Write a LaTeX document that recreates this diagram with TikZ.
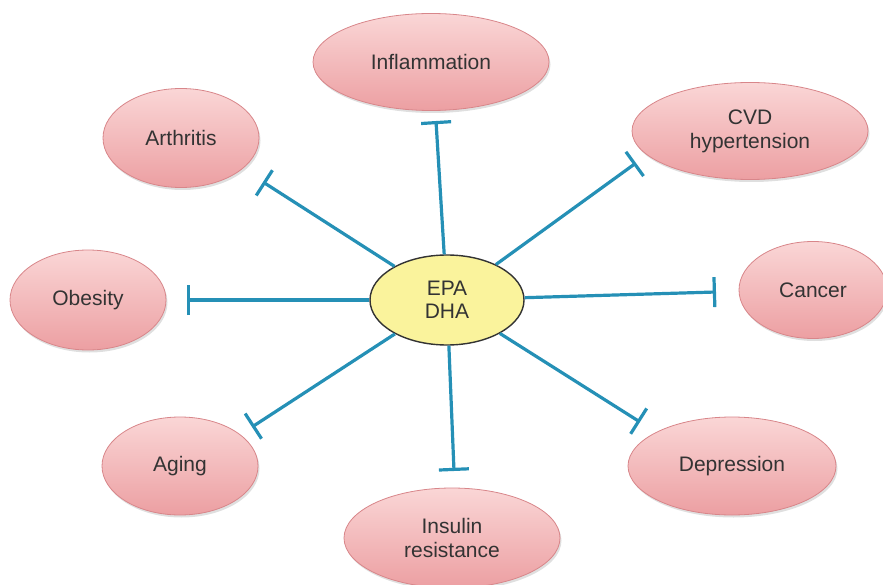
\documentclass[tikz,border=0pt]{standalone}
\usepackage{fontspec}
\setmainfont{Liberation Sans}
\usetikzlibrary{shapes.geometric,arrows.meta,shadows}
\definecolor{pinktop}{HTML}{FAD6D6}
\definecolor{pinkbot}{HTML}{EC9FA2}
\definecolor{pinkline}{HTML}{D8868A}
\definecolor{yellowfill}{HTML}{FAF39C}
\definecolor{linkblue}{HTML}{2590B6}
\definecolor{txt}{HTML}{333333}
\tikzset{
  disease/.style={ellipse, inner sep=0pt, top color=pinktop, bottom color=pinkbot,
    draw=pinkline, line width=0.8pt, text=txt, align=center,
    font=\fontsize{21}{24}\selectfont,
    drop shadow={opacity=0.25, shadow xshift=1.5pt, shadow yshift=-2.5pt}},
  core/.style={ellipse, inner sep=0pt, fill=yellowfill, draw=black!80, line width=1.4pt,
    text=txt, align=center, font=\fontsize{21}{23}\selectfont},
  inhib/.style={draw=linkblue, line width=3.2pt, -{Bar[width=30pt, line width=3.2pt]}}
}
\begin{document}
\begin{tikzpicture}[x=1pt, y=-1pt]
\useasboundingbox (0,0) rectangle (883,585);
\clip (0,0) rectangle (883,585);
% nodes
\node[core, minimum width=154pt, minimum height=90pt] (c) at (447,300) {EPA\\DHA};
\node[disease, minimum width=236pt, minimum height=97pt] (infl) at (431,62) {Inflammation};
\node[disease, minimum width=156pt, minimum height=99pt] (arth) at (181,138) {Arthritis};
\node[disease, minimum width=236pt, minimum height=97pt] (cvd) at (750,131) {CVD\\hypertension};
\node[disease, minimum width=148pt, minimum height=97pt] (canc) at (813,290) {Cancer};
\node[disease, minimum width=156pt, minimum height=100pt] (obes) at (88,300) {Obesity};
\node[disease, minimum width=156pt, minimum height=98pt] (agin) at (180,466) {Aging};
\node[disease, minimum width=208pt, minimum height=98pt] (depr) at (732,466) {Depression};
\node[disease, minimum width=216pt, minimum height=100pt] (insu) at (452,538) {Insulin\\resistance};
% inhibition ends
\coordinate (tInf) at (436,121);
\coordinate (tArt) at (263,182);
\coordinate (tCVD) at (636,163);
\coordinate (tCan) at (716,292);
\coordinate (tObe) at (187,300);
\coordinate (tAge) at (252,427);
\coordinate (tDep) at (640,422);
\coordinate (tIns) at (454,471);
% connectors
\draw[inhib] (c) -- (tInf);
\draw[inhib] (c) -- (tArt);
\draw[inhib] (c) -- (tCVD);
\draw[inhib] (c) -- (tCan);
\draw[inhib] (c) -- (tObe);
\draw[inhib] (c) -- (tAge);
\draw[inhib] (c) -- (tDep);
\draw[inhib] (c) -- (tIns);
\end{tikzpicture}
\end{document}
